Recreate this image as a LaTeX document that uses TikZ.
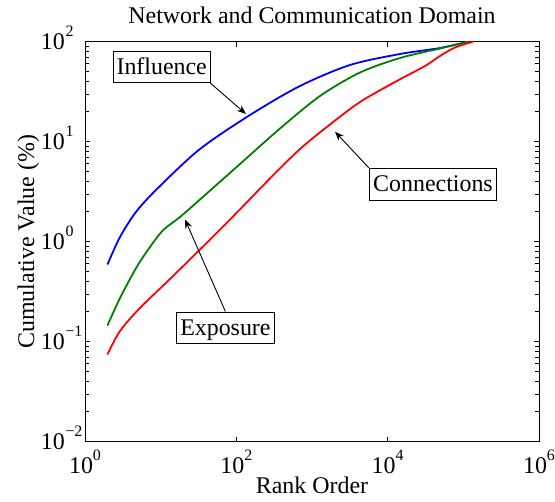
\documentclass[tikz,border=0pt]{standalone}
\usepackage{fontspec}
\setmainfont{Liberation Serif}
\usetikzlibrary{arrows.meta}
\definecolor{mblue}{RGB}{0,0,255}
\definecolor{mgreen}{RGB}{0,128,0}
\definecolor{mred}{RGB}{255,0,0}
\begin{document}
\begin{tikzpicture}[x=1bp,y=-1bp,
  lbl/.style={font=\fontsize{24}{28}\selectfont, inner sep=0pt},
  expo/.style={font=\fontsize{16}{18}\selectfont, inner sep=0pt},
  annbox/.style={draw, line width=0.9bp, fill=white, font=\fontsize{24}{28}\selectfont,
    inner xsep=2bp, inner ysep=3.35bp, text height=20bp, text depth=5bp},
  curve/.style={line width=1.8bp, line join=round, line cap=round},
  ann/.style={-{Stealth[length=9bp,width=7bp]}, line width=0.9bp},
  axisline/.style={line width=1bp},
  tickmark/.style={line width=0.8bp}]
\fill[white] (0,0) rectangle (555,502);
\useasboundingbox (0,0) rectangle (555,502);

% axes box
\draw[axisline] (85,41.7) rectangle (539,441.7);

% y minor ticks
\foreach \e in {-2,-1,0,1}{
  \foreach \m in {2,...,9}{
    \pgfmathsetmacro\yy{41.7+100*(2-(\e)-log10(\m))}
    \draw[tickmark] (85,\yy) -- (89,\yy);
    \draw[tickmark] (539,\yy) -- (535,\yy);
  }
}
% y major ticks
\foreach \e in {-1,0,1}{
  \pgfmathsetmacro\yy{41.7+100*(2-(\e))}
  \draw[tickmark] (85,\yy) -- (90,\yy);
  \draw[tickmark] (539,\yy) -- (534,\yy);
}
% x major ticks
\foreach \d in {2,4}{
  \pgfmathsetmacro\xx{85+75.67*\d}
  \draw[tickmark] (\xx,441.7) -- (\xx,436.7);
  \draw[tickmark] (\xx,41.7) -- (\xx,46.7);
}

% y tick labels
\foreach \e/\s [count=\i] in {2/2,1/1,0/0,-1/{−1},-2/{−2}}{
  \pgfmathsetmacro\yy{41.7+100*(2-(\e))}
  \node[lbl, anchor=base east] (yten\i) at (65,\yy+8.1) {10};
  \node[expo, anchor=base west] (yexp\i) at (65.3,\yy-4.9) {\s};
}
% x tick labels
\foreach \d [count=\i] in {0,2,4,6}{
  \node[lbl, anchor=base] (xtl\i) at (85+75.67*\d,473.3)
    {10\raisebox{13bp}{\fontsize{16}{18}\selectfont\d}};
}

% titles
\node[lbl, anchor=base] (title) at (312,23.3) {Network and Communication Domain};
\node[lbl, anchor=base] (xlab) at (312,493) {Rank Order};
\node[lbl, rotate=90, anchor=base] (ylab) at (34,241.7) {Cumulative Value (\%)};

% curves
\draw[curve, mblue] plot[smooth, tension=0.5] coordinates {
  (107.7,264) (120,237) (136.7,211) (160,186) (200,149) (250,115)
  (300,86) (350,65) (400,54) (440,48) (468,41.7)};
\draw[curve, mgreen] plot[smooth, tension=0.5] coordinates {
  (107.7,325) (120.5,297) (136.7,267) (150,247) (163.3,230) (180,217)
  (200,199.5) (240,164) (280,128.5) (320,96) (360,72.5) (400,58)
  (440,48.5) (468,41.7)};
\draw[curve, mred] plot[smooth, tension=0.5] coordinates {
  (107.7,354) (120,331) (140,308) (170,279) (200,249.5) (235,214.5)
  (267,181.5) (300,149) (330,124.5) (360,102) (395,82) (425,66)
  (440,56) (455,47.5) (473,41.7)};

% annotations
\node[annbox, minimum width=96.7bp] (infl) at (161.7,66.9) {Influence};
\node[annbox, minimum width=127.4bp] (conn) at (433,184.2) {Connections};
\node[annbox, minimum width=97.8bp] (expos) at (225.4,327.8) {Exposure};

\coordinate (inflTip) at (246,114);
\coordinate (connTip) at (335,131.7);
\coordinate (exposTip) at (185,219.5);
\draw[ann] (infl.south east) -- (inflTip);
\draw[ann] (conn.north west) -- (connTip);
\draw[ann] (expos.north) -- (exposTip);
\end{tikzpicture}
\end{document}
